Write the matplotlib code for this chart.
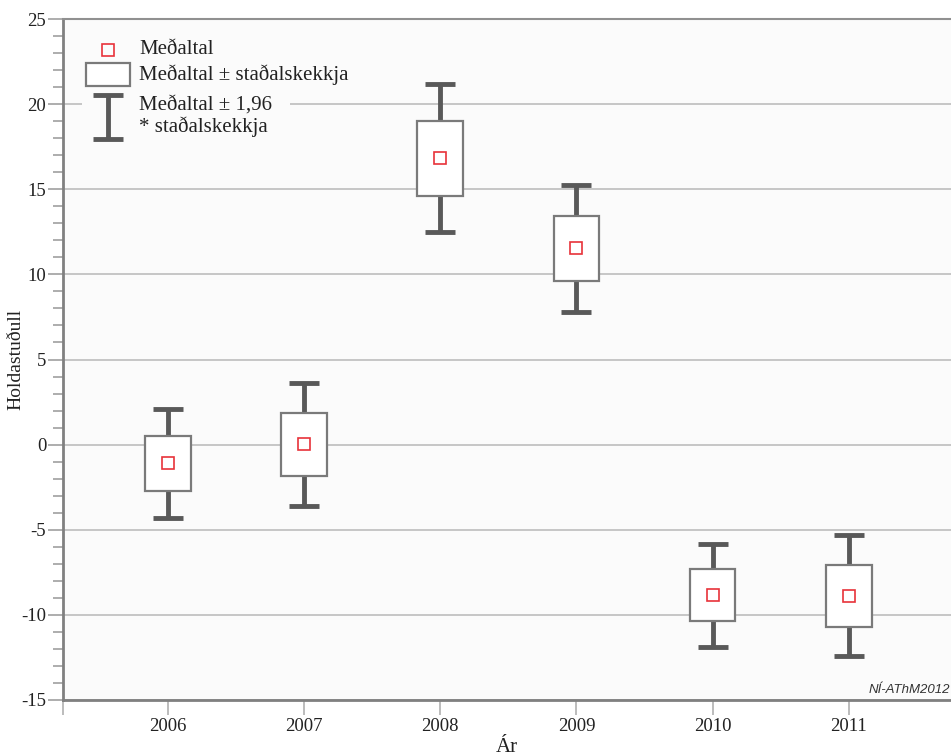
import matplotlib.pyplot as plt
from matplotlib.patches import Rectangle
from matplotlib.ticker import MultipleLocator

plt.rcParams['axes.unicode_minus'] = False

# values
years = [2006, 2007, 2008, 2009, 2010, 2011]
means = [-1.10, 0.02, 16.82, 11.53, -8.82, -8.88]
se_lo = [-2.75, -1.86, 14.62, 9.62, -10.35, -10.69]
se_hi = [0.53, 1.86, 19.02, 13.43, -7.33, -7.08]
ci_lo = [-4.31, -3.63, 12.49, 7.80, -11.86, -12.43]
ci_hi = [2.10, 3.63, 21.16, 15.27, -5.82, -5.33]

SERIF = ['Liberation Serif', 'DejaVu Serif']
BG = '#fbfbfb'
BOX_EDGE = '#7a7a7a'
BAR = '#595959'
RED = '#e8323a'

fig = plt.figure(figsize=(9.51, 7.56), dpi=100)
ax = fig.add_axes([63 / 951, 56 / 756, 888 / 951, 681 / 756])
ax.set_facecolor(BG)

box_w = 0.335
cap_w = 0.22
for x, m, bl, bh, cl, ch in zip(years, means, se_lo, se_hi, ci_lo, ci_hi):
    # whiskers and caps
    ax.plot([x, x], [bh, ch], color=BAR, lw=3.5, solid_capstyle='butt', zorder=3)
    ax.plot([x, x], [cl, bl], color=BAR, lw=3.5, solid_capstyle='butt', zorder=3)
    ax.plot([x - cap_w / 2, x + cap_w / 2], [ch, ch], color=BAR, lw=3.5, solid_capstyle='butt', zorder=3)
    ax.plot([x - cap_w / 2, x + cap_w / 2], [cl, cl], color=BAR, lw=3.5, solid_capstyle='butt', zorder=3)
    # box
    ax.add_patch(Rectangle((x - box_w / 2, bl), box_w, bh - bl, facecolor='white',
                           edgecolor=BOX_EDGE, lw=1.6, zorder=4))
ax.plot(years, means, ls='none', marker='s', ms=8, mfc='none', mec=RED, mew=1.2, zorder=5)

# axes formatting
ax.set_xlim(2005.23, 2011.75)
ax.set_ylim(-15, 25)
ax.set_xticks(years)
ax.set_xticks([2005.23], minor=True)
ax.yaxis.set_major_locator(MultipleLocator(5))
ax.yaxis.set_minor_locator(MultipleLocator(1))
ax.grid(axis='y', which='major', color='#b8b8b8', lw=1.1, zorder=0)
ax.set_axisbelow(True)

ax.tick_params(axis='y', which='major', direction='out', length=11, width=1.2, color='#a0a0a0', pad=1)
ax.tick_params(axis='y', which='minor', direction='out', length=7, width=1.2, color='#a0a0a0')
ax.tick_params(axis='x', which='both', direction='out', length=11, width=1.2, color='#b0b0b0', pad=2)

for lab in ax.get_xticklabels() + ax.get_yticklabels():
    lab.set_family(SERIF)
    lab.set_fontsize(13.5)
    lab.set_color('#222222')

for side in ['left', 'bottom']:
    ax.spines[side].set_color('#808080')
    ax.spines[side].set_linewidth(2)
ax.spines['top'].set_color('#909090')
ax.spines['top'].set_linewidth(1.5)
ax.spines['right'].set_visible(False)

ax.set_ylabel('Holdastuðull', family=SERIF, fontsize=14, color='#222222')
ax.yaxis.set_label_coords(-0.043, 0.5)
ax.set_xlabel('Ár', family=SERIF, fontsize=15, color='#222222')
ax.xaxis.set_label_coords(0.5, -0.056)

# legend drawn by hand in axes fraction coordinates
T = ax.transAxes
ax.add_patch(Rectangle((0.0214, 0.816), 0.234, 0.168, transform=T, facecolor=BG,
                       edgecolor='none', zorder=2))
ax.plot([0.0507], [0.9545], transform=T, ls='none', marker='s', ms=8, mfc='none',
        mec=RED, mew=1.2, zorder=5)
ax.add_patch(Rectangle((0.0259, 0.9016), 0.0495, 0.0338, transform=T, facecolor='white',
                       edgecolor=BOX_EDGE, lw=1.6, zorder=4))
ax.plot([0.0507, 0.0507], [0.8238, 0.8884], transform=T, color=BAR, lw=3.5,
        solid_capstyle='butt', zorder=3)
for yy in [0.8238, 0.8884]:
    ax.plot([0.0338, 0.0676], [yy, yy], transform=T, color=BAR, lw=3.5,
            solid_capstyle='butt', zorder=3)
leg_kw = dict(transform=T, family=SERIF, fontsize=15, color='#222222', va='center', ha='left', zorder=6)
ax.text(0.0856, 0.9545, 'Meðaltal', **leg_kw)
ax.text(0.0856, 0.9178, 'Meðaltal ± staðalskekkja', **leg_kw)
ax.text(0.0856, 0.872, 'Meðaltal ± 1,96', **leg_kw)
ax.text(0.0856, 0.8414, '* staðalskekkja', **leg_kw)

ax.text(0.999, 0.006, 'NÍ-AThM2012', transform=T, family=['Liberation Sans', 'DejaVu Sans'],
        style='italic', fontsize=9.5, color='#333333', ha='right', va='bottom')

fig.savefig('out.png', dpi=100)
